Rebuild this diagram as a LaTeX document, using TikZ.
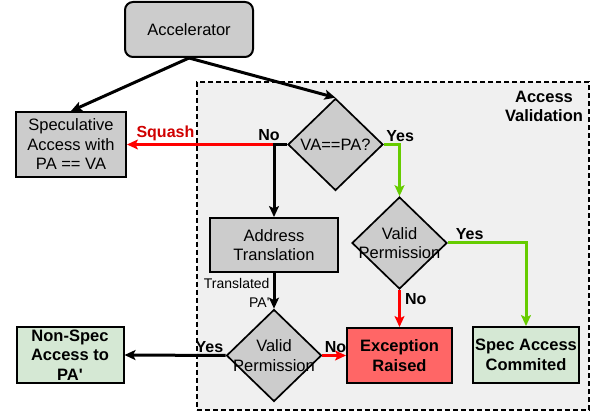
\documentclass[tikz,border=0pt]{standalone}
\usepackage{fontspec}
\setmainfont{Liberation Sans}
\usetikzlibrary{shapes,arrows.meta,positioning,calc}

\definecolor{boxgray}{HTML}{CCCCCC}
\definecolor{regiongray}{HTML}{F0F0F0}
\definecolor{sqred}{HTML}{FF0000}
\definecolor{sqtext}{HTML}{D00000}
\definecolor{okgreen}{HTML}{66CC00}
\definecolor{excred}{HTML}{FF6666}
\definecolor{passgreen}{HTML}{D5E8D4}

\begin{document}
\begin{tikzpicture}[
    x=1pt, y=-1pt,
    txt/.style={font=\fontsize{16.5}{19.5}\selectfont},
    block/.style={rectangle, draw=black, line width=2pt, fill=boxgray, align=center, inner sep=0pt, txt},
    result/.style={block, font=\fontsize{16.5}{19.5}\selectfont\bfseries},
    decision/.style={diamond, draw=black, line width=1.7pt, fill=boxgray, inner sep=0pt, minimum width=95pt, minimum height=92pt},
    region/.style={rectangle, draw=black, dash pattern=on 5pt off 3pt, line width=1.8pt, fill=regiongray, minimum width=392pt, minimum height=328pt},
    lbl/.style={font=\fontsize{16}{18}\selectfont\bfseries, inner sep=2pt},
    arrow/.style={-{Stealth[length=11pt, width=10pt, inset=2.5pt]}, line width=3pt},
    redarrow/.style={arrow, draw=sqred},
    greenarrow/.style={arrow, draw=okgreen}
]
\useasboundingbox (0,0) rectangle (595,414);

% Access validation region
\node[region] (valid) at (393,246) {};
\node[lbl, align=center, font=\fontsize{16.5}{19}\selectfont\bfseries] (validtitle) at (544,106.5) {Access\\Validation};

% Top
\node[block, rounded corners=8pt, minimum width=128pt, minimum height=55pt] (accel) at (189,29.5) {Accelerator};
\node[block, minimum width=110pt, minimum height=65pt] (spec) at (71,144.5) {Speculative\\Access with\\PA == VA};

% Decisions
\node[decision, label={[txt]center:VA==PA?}] (vapa) at (335.5,144.5) {};
\node[decision, label={[txt, align=center]center:Valid\\Permission}] (perm1) at (399.5,243) {};
\node[decision, label={[txt, align=center]center:Valid\\Permission}] (perm2) at (274,355.5) {};

% Translation
\node[block, minimum width=128pt, minimum height=54pt] (addr) at (274,245) {Address\\Translation};

% Outcomes
\node[result, fill=excred, minimum width=105pt, minimum height=55pt] (exc) at (399.5,355.5) {Exception\\Raised};
\node[result, fill=passgreen, minimum width=106pt, minimum height=56pt] (commit) at (526,355) {Spec Access\\Commited};
\node[result, fill=passgreen, minimum width=107pt, minimum height=56pt] (nonspec) at (70,355) {Non-Spec\\Access to\\PA\textquotesingle};

% Arrows
\draw[arrow] (accel.south) -- (spec.north);
\draw[arrow] (accel.south) -- (vapa.north);
\draw[redarrow] (vapa.west) -- node[lbl, pos=0.76, above, text=sqtext] (squash) {Squash} (spec.east);
\draw[arrow] (vapa.west) -| node[lbl, pos=0, above left, xshift=-4pt] (no1) {No} (addr.north);
\draw[greenarrow] (vapa.east) -| node[lbl, pos=0, above right, inner sep=1pt] (yes1) {Yes} (perm1.north);
\draw[greenarrow] (perm1.east) -| node[lbl, pos=0.14, above] (yes2) {Yes} (commit.north);
\draw[redarrow] (perm1.south) -- node[lbl, pos=0, below right, xshift=2pt] (no2) {No} (exc.north);
\draw[arrow] (addr.south) -- node[pos=0.55, left, align=right, inner sep=3pt, font=\fontsize{14}{19}\selectfont] (transl) {Translated\\PA\textquotesingle} (perm2.north);
\draw[redarrow] (perm2.east) -- node[lbl, pos=0, above right, inner sep=1pt] (no3) {No} (exc.west);
\draw[arrow] (perm2.west) -- node[lbl, pos=0, above left, inner sep=1pt] (yes3) {Yes} (nonspec.east);

\end{tikzpicture}
\end{document}
